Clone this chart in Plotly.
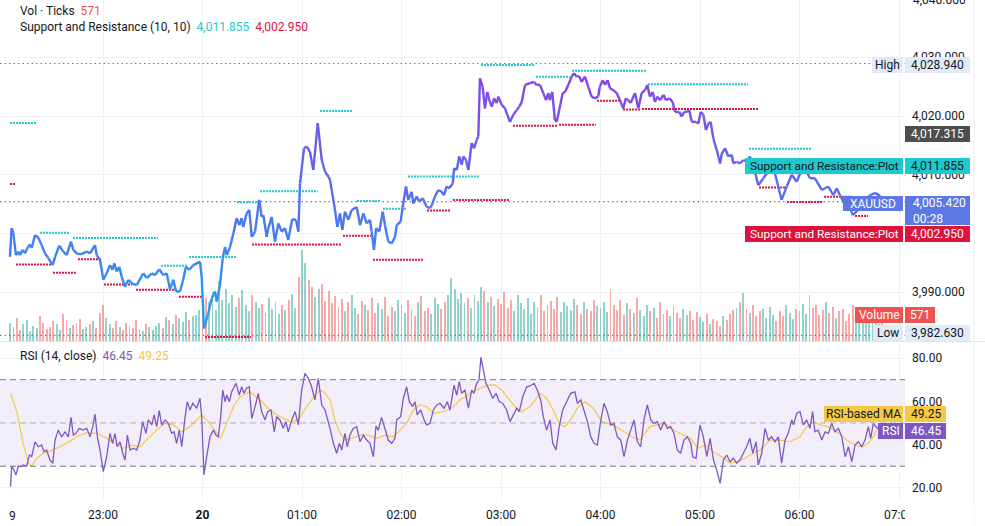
import numpy as np
import plotly.graph_objects as go

# ---------------- data (time = minutes after 22:00 on the 19th) ----------------
price_pts = [(3.9,3996.0),(4.9,4000.9),(5.9,4000.1),(7.5,3996.3),(8.9,3996.9),(9.9,3996.3),(11.6,3997.2),(13.0,3996.6),(14.4,3997.5),(16.0,3998.1),(17.0,3997.5),(19.0,3999.7),(21.0,3999.3),(23.0,3998.0),(25.0,3996.6),(27.0,3995.8),(29.7,3994.6),(31.1,3996.0),(33.6,3997.9),(36.1,3996.9),(38.1,3996.3),(40.7,3998.6),(42.1,3997.2),(44.5,3996.5),(47.2,3996.5),(50.2,3996.9),(52.2,3996.6),(55.2,3998.0),(56.2,3996.3),(58.2,3995.5),(60.2,3992.1),(62.2,3993.2),(64.2,3994.6),(65.8,3993.8),(66.8,3994.9),(68.3,3993.5),(69.8,3994.3),(71.3,3992.6),(73.3,3990.9),(75.3,3992.1),(77.3,3991.5),(80.3,3991.2),(84.3,3993.2),(86.4,3992.4),(89.4,3993.2),(91.4,3992.9),(93.9,3993.9),(96.4,3992.9),(98.4,3993.2),(100.4,3990.5),(102.4,3992.1),(104.0,3990.1),(106.4,3990.1),(108.1,3991.8),(110.0,3994.3),(112.0,3993.8),(114.5,3994.6),(118.5,3995.2),(119.5,3992.6),(120.9,3983.8),(123.5,3986.4),(125.5,3988.9),(127.5,3990.1),(128.6,3988.4),(130.5,3991.2),(132.2,3995.8),(133.6,3997.7),(134.6,3996.3),(136.6,3997.7),(138.6,4000.0),(140.6,4002.6),(142.2,4001.4),(143.6,4002.6),(144.6,4001.1),(146.6,4003.4),(148.2,4004.0),(149.7,3999.4),(151.7,4000.3),(154.2,4005.7),(155.7,4002.8),(156.7,4003.1),(158.7,3999.4),(159.7,4000.9),(161.7,4002.8),(163.7,3998.6),(165.7,4001.7),(167.8,4000.3),(169.7,4000.9),(171.7,3998.9),(174.1,4002.4),(176.4,4002.3),(177.8,4000.3),(178.8,4008.5),(181.2,4014.5),(182.8,4014.8),(184.8,4013.9),(186.8,4010.8),(189.5,4018.8),(191.9,4012.5),(193.9,4010.5),(195.9,4009.7),(196.9,4009.1),(199.9,4004.0),(201.3,4001.1),(202.9,4003.4),(204.3,4000.6),(205.9,4003.7),(207.9,4002.3),(210.0,4004.0),(213.0,4004.5),(215.0,4001.4),(217.0,4003.4),(219.0,4001.7),(221.0,4002.3),(222.0,4000.3),(223.4,3997.2),(224.7,4000.9),(226.6,4000.3),(228.7,4003.7),(230.0,4001.4),(232.0,3998.6),(234.1,3998.3),(236.1,3999.4),(237.1,4001.4),(239.5,4002.0),(240.7,4004.5),(242.7,4008.0),(244.1,4005.7),(246.1,4007.1),(247.1,4005.1),(249.2,4006.3),(250.7,4005.4),(252.8,4006.0),(255.2,4004.5),(257.2,4004.3),(258.2,4004.8),(260.2,4006.3),(262.2,4007.4),(264.2,4007.1),(265.6,4006.5),(267.2,4008.0),(268.8,4007.7),(270.9,4008.5),(271.7,4011.1),(273.3,4010.8),(274.8,4013.1),(276.3,4011.7),(277.3,4013.1),(278.9,4012.5),(280.3,4010.8),(282.3,4015.4),(283.7,4014.5),(285.3,4015.9),(286.3,4016.5),(287.3,4026.4),(288.9,4025.0),(290.3,4021.3),(291.7,4024.1),(292.9,4022.7),(294.4,4021.6),(295.8,4023.0),(297.4,4022.2),(298.4,4023.3),(300.4,4021.9),(302.4,4021.3),(303.8,4020.2),(305.4,4019.0),(307.4,4020.2),(309.5,4021.0),(311.0,4021.6),(312.5,4022.4),(314.5,4025.3),(317.5,4025.6),(319.9,4025.8),(321.5,4025.3),(323.5,4025.3),(325.5,4023.9),(327.1,4022.7),(328.5,4023.9),(329.5,4022.7),(330.9,4024.1),(332.5,4019.3),(333.6,4019.0),(335.1,4021.0),(337.2,4023.9),(338.6,4024.1),(340.6,4025.3),(342.6,4026.7),(344.0,4027.3),(345.6,4026.7),(347.2,4026.8),(348.6,4025.8),(350.6,4026.7),(352.6,4025.0),(354.6,4023.3),(356.6,4023.0),(358.6,4023.3),(359.6,4025.0),(361.3,4026.1),(362.7,4025.3),(364.3,4026.1),(365.7,4024.7),(367.7,4024.4),(369.8,4023.9),(371.7,4022.7),(373.7,4021.3),(375.3,4023.0),(376.7,4022.7),(378.2,4022.2),(380.8,4023.9),(382.8,4021.3),(384.8,4023.9),(386.8,4024.4),(388.2,4025.3),(389.8,4023.3),(391.5,4024.1),(392.8,4022.4),(394.2,4023.3),(395.9,4022.7),(397.9,4023.6),(399.5,4022.7),(401.5,4023.0),(403.5,4022.4),(404.9,4020.7),(407.5,4020.7),(409.0,4019.9),(410.3,4020.7),(412.0,4020.7),(413.5,4021.0),(415.0,4019.0),(417.6,4019.0),(419.0,4018.7),(420.4,4020.7),(422.0,4020.2),(423.6,4017.6),(425.0,4018.7),(426.4,4019.0),(428.0,4016.2),(430.1,4014.2),(432.1,4011.9),(433.1,4013.6),(435.1,4014.5),(437.1,4013.1),(439.1,4013.4),(440.1,4011.9),(442.1,4012.2),(444.1,4011.9),(446.1,4012.5),(448.1,4012.2),(450.1,4013.1),(453.1,4010.5),(455.1,4008.2),(458.2,4009.4),(463.2,4011.4),(465.2,4010.2),(469.2,4005.7),(472.3,4008.0),(475.3,4010.0),(478.3,4008.8),(480.3,4010.2),(484.3,4010.5),(486.3,4009.4),(489.2,4009.4),(493.4,4007.4),(497.3,4008.0),(500.4,4006.5),(502.4,4007.7),(504.4,4006.5),(507.5,4004.8),(510.5,4004.3),(512.1,4003.1),(515.3,4004.0),(519.0,4005.7),(522.6,4006.5),(525.6,4006.9),(528.6,4006.4),(530.4,4005.42)]

rsi_pts = [(4.3,20.6),(4.9,30.1),(6.3,28.3),(7.5,26.0),(8.9,30.1),(10.4,29.8),(11.9,30.6),(14.0,30.1),(15.6,35.2),(17.0,34.4),(19.0,41.3),(21.0,39.0),(23.0,39.8),(24.4,36.7),(26.0,37.5),(28.0,32.9),(29.7,31.4),(31.1,42.1),(33.0,46.7),(35.1,43.6),(37.1,45.9),(39.1,43.6),(40.7,52.6),(42.1,44.4),(43.7,45.2),(45.7,47.5),(47.8,46.7),(50.2,47.5),(52.2,43.6),(53.8,48.3),(55.2,54.1),(56.6,43.6),(58.2,37.5),(60.2,27.5),(62.2,34.4),(64.2,45.2),(65.8,40.6),(67.2,45.2),(68.6,39.0),(70.3,41.3),(71.9,36.0),(73.3,32.9),(74.7,44.4),(76.3,37.5),(78.3,38.3),(80.3,37.5),(82.3,42.1),(83.9,50.6),(85.9,45.2),(87.3,51.4),(89.4,49.1),(90.8,53.7),(92.4,48.3),(93.9,55.7),(95.4,49.1),(97.4,51.4),(99.4,49.8),(101.4,45.2),(102.8,45.9),(104.4,40.6),(106.0,46.7),(107.5,39.0),(109.4,52.1),(110.8,59.8),(112.5,56.0),(114.1,59.1),(116.5,56.8),(118.5,61.4),(119.5,52.9),(120.9,26.0),(122.5,34.4),(124.5,43.6),(126.5,46.7),(128.1,44.4),(129.5,43.6),(131.0,52.9),(132.2,65.2),(133.6,59.8),(134.6,62.9),(136.2,59.8),(137.6,64.4),(140.2,68.3),(142.2,62.9),(143.6,66.7),(145.0,63.7),(146.6,66.0),(148.2,66.7),(149.7,52.1),(151.7,57.5),(153.6,63.7),(155.7,55.2),(157.7,51.4),(159.3,55.2),(161.3,56.0),(163.3,45.9),(164.7,52.9),(166.7,51.4),(168.7,47.5),(170.3,50.6),(171.7,45.9),(173.8,51.4),(175.8,55.2),(177.8,49.1),(179.8,65.2),(181.8,72.9),(183.8,70.6),(185.8,66.7),(187.8,60.6),(189.8,70.6),(191.9,58.3),(193.9,56.0),(195.9,50.6),(196.9,47.5),(198.9,40.6),(200.9,36.0),(202.5,40.6),(203.9,37.5),(205.9,45.2),(207.3,39.0),(208.9,44.4),(210.9,47.5),(213.0,48.3),(215.0,41.3),(217.0,44.4),(219.0,42.1),(221.0,40.6),(223.0,34.4),(224.6,48.6),(226.0,46.7),(228.0,52.6),(230.0,46.7),(232.0,42.1),(234.1,40.6),(236.1,42.9),(237.1,51.4),(239.5,52.9),(241.1,61.4),(243.1,66.7),(244.7,59.8),(246.7,57.5),(248.1,59.8),(249.5,53.7),(251.6,56.0),(253.6,51.4),(255.2,49.1),(257.2,49.8),(259.2,56.0),(261.2,58.3),(263.2,59.1),(265.6,56.8),(267.6,59.8),(269.2,56.0),(271.7,67.5),(273.3,62.9),(274.8,69.1),(276.3,63.7),(278.3,65.2),(280.3,56.8),(282.3,65.2),(283.7,63.7),(285.3,68.3),(286.7,69.8),(287.9,80.3),(289.3,74.5),(290.9,68.3),(292.9,65.2),(295.0,61.4),(297.0,63.7),(299.0,59.8),(301.0,59.1),(303.4,56.0),(305.4,50.6),(307.4,53.7),(309.5,56.8),(311.0,55.2),(313.1,62.1),(315.5,66.7),(317.5,67.1),(319.9,68.3),(321.9,65.2),(323.9,60.6),(325.5,52.9),(327.5,46.7),(329.5,51.4),(331.2,40.6),(333.2,37.5),(335.1,48.3),(337.2,56.0),(339.6,59.8),(342.0,63.7),(344.6,64.4),(346.0,59.1),(348.1,60.6),(350.1,56.0),(352.1,50.6),(354.1,43.6),(356.1,40.6),(358.1,39.8),(360.2,51.4),(362.1,59.1),(364.1,55.2),(366.1,49.1),(368.1,49.8),(370.1,43.6),(372.2,42.1),(374.2,34.4),(376.2,42.1),(378.2,46.7),(380.2,51.4),(382.2,41.3),(384.2,39.0),(386.2,51.4),(388.2,58.3),(390.3,51.4),(392.3,49.8),(394.2,50.6),(396.3,46.7),(398.3,50.6),(400.3,47.5),(402.3,48.3),(404.3,45.2),(406.3,37.5),(408.3,36.0),(410.3,42.1),(412.3,43.6),(414.4,40.6),(415.6,34.4),(417.6,33.7),(420.0,49.1),(422.0,43.6),(424.1,34.4),(426.1,42.9),(428.1,32.9),(430.1,28.3),(432.1,22.1),(434.1,32.9),(436.1,35.2),(438.1,32.1),(440.1,33.7),(442.1,31.4),(444.1,32.9),(446.1,36.0),(448.1,39.0),(450.1,42.9),(451.8,36.0),(453.8,41.3),(455.1,30.6),(457.2,36.0),(459.2,47.5),(461.2,42.1),(463.2,43.6),(465.2,41.3),(467.2,43.6),(469.2,31.4),(471.3,42.1),(473.2,45.2),(475.3,51.4),(476.3,49.1),(478.3,54.5),(480.3,55.2),(482.3,49.1),(484.3,51.4),(486.3,47.5),(487.9,55.2),(489.3,45.9),(491.3,46.7),(493.4,42.1),(495.4,45.9),(497.4,45.2),(499.4,49.8),(501.4,45.9),(503.4,47.5),(505.5,43.6),(507.5,34.4),(509.5,39.0),(511.5,32.1),(513.5,39.8),(515.5,41.3),(517.5,39.0),(519.5,42.1),(521.5,48.3),(522.9,42.9),(524.5,49.8),(526.7,47.7),(530.4,46.45)]

rsi_ma_pts = [(4.3,63.7),(8.0,55.2),(11.9,40.6),(15.0,31.4),(17.0,30.1),(20.0,33.7),(24.0,36.0),(30.0,37.5),(38.1,40.6),(44.1,43.6),(50.2,45.5),(56.2,45.2),(62.2,42.9),(67.2,40.6),(72.2,38.3),(77.3,39.8),(82.3,39.0),(87.3,42.9),(92.4,46.7),(97.4,49.8),(102.4,49.1),(107.5,45.9),(112.5,48.3),(117.5,52.1),(119.5,53.7),(123.5,50.6),(127.5,46.7),(131.0,42.9),(134.6,49.8),(138.6,57.5),(142.6,62.1),(148.6,64.4),(154.7,60.6),(160.7,56.0),(166.7,52.9),(172.8,50.6),(177.8,51.4),(182.8,57.5),(187.8,62.9),(190.8,65.2),(193.9,63.7),(196.9,60.6),(199.9,51.4),(202.9,45.2),(205.9,42.1),(210.0,42.9),(215.0,44.4),(220.0,44.4),(225.1,42.9),(230.0,44.4),(235.1,43.6),(239.1,46.7),(243.1,49.8),(247.1,56.0),(251.1,58.3),(255.2,57.5),(259.2,54.5),(265.2,55.2),(270.3,56.8),(275.3,60.6),(281.3,63.7),(287.3,66.0),(292.3,67.5),(296.4,67.5),(300.4,65.2),(304.4,61.4),(308.4,57.5),(312.5,55.2),(317.5,57.5),(323.5,63.7),(327.5,61.4),(331.5,56.0),(335.6,49.1),(338.6,48.3),(342.6,52.1),(346.6,57.5),(350.6,59.8),(355.6,56.8),(360.7,50.6),(366.7,49.1),(372.7,46.7),(378.8,43.6),(383.8,42.1),(389.8,48.3),(394.9,49.1),(398.9,49.8),(403.9,46.7),(409.9,44.4),(414.0,42.9),(419.0,38.3),(422.9,39.8),(428.0,36.7),(433.1,34.4),(438.1,31.6),(443.1,32.1),(447.1,33.7),(450.1,35.2),(456.2,37.5),(462.2,42.1),(468.2,42.1),(474.3,41.3),(480.3,43.6),(484.3,48.3),(488.3,50.6),(492.4,49.1),(497.4,48.3),(502.4,45.9),(508.5,42.1),(513.5,39.8),(517.5,38.8),(521.5,40.6),(524.5,43.6),(526.6,46.7),(530.4,49.25)]

# volume (ticks) of 2-minute bars starting at minute 4
volume = [420, 310, 520, 260, 390, 480, 220, 350, 300, 560, 410, 270, 330, 450, 380, 240, 610, 470, 290, 360, 420, 510, 280, 330, 390, 450, 300, 640,
          820, 520, 380, 290, 450, 330, 260, 410, 350, 300, 470, 280, 230, 390, 310, 260, 350, 420, 300, 540, 480, 390, 600, 520, 430, 650, 470, 560, 590, 700,
          760, 980, 880, 1120, 700, 1370, 940, 1180, 860, 1050, 780, 990, 1160, 820, 690, 1040, 900, 760, 850, 640, 980, 720, 880, 610, 830, 700, 940, 1080, 760, 1460,
          2070, 1780, 1390, 1230, 1010, 1180, 1300, 920, 1140, 860, 1020, 780, 950, 690, 880, 1040, 750, 620, 910, 830, 700, 980, 640, 860, 720, 1010, 560, 780, 690, 940,
          820, 640, 930, 710, 560, 880, 1020, 690, 760, 610, 980, 840, 730, 890, 1060, 1440, 1180, 950, 1100, 870, 990, 760, 1050, 920, 1230, 1150, 880, 1010, 790, 960,
          840, 1120, 760, 930, 680, 1040, 870, 720, 990, 610, 880, 770, 1060, 690, 830, 920, 740, 1010, 650, 880, 790, 700, 960, 820, 610, 890, 740, 680, 930, 800,
          760, 880, 650, 1180, 820, 700, 930, 590, 860, 740, 640, 990, 710, 580, 820, 690, 760, 530, 880, 620, 710, 560, 790, 640, 520, 730, 600, 680, 470, 650,
          540, 430, 620, 380, 510, 460, 350, 580, 490, 620, 700, 760, 880, 1090, 720, 640, 810, 560, 690, 740, 520, 780, 600, 450, 690, 570, 820, 640, 510, 730,
          690, 840, 620, 1050, 760, 820, 590, 710, 880, 640, 780, 520, 690, 740, 460, 620, 810, 560, 430, 670, 520, 740, 480, 610, 390, 571]
vol_start, vol_step = 4, 2

# support / resistance segments (start minute, end minute, level)
res_t0 = [3.9, 22.0, 41.9, 95.0, 111.9, 140.8, 154.7, 190.9, 213.2, 228.8, 243.9, 287.9, 321.1, 342.8, 388.6, 449.5, 490.0]
res_t1 = [20.2, 40.1, 93.2, 110.7, 140.2, 154.1, 189.6, 210.8, 227.6, 242.7, 286.7, 319.9, 341.6, 388.0, 448.9, 487.5, 530.4]
res_p = [4018.8, 4000.1, 3999.2, 3994.5, 3996.0, 4005.3, 4007.2, 4020.85, 4005.5, 4004.2, 4009.7, 4028.7, 4026.7, 4027.7, 4025.4, 4014.4, 4011.855]
sup_t0 = [3.9, 7.5, 29.8, 44.9, 60.6, 79.9, 105.8, 121.5, 149.8, 204.7, 222.8, 255.4, 271.0, 307.2, 335.0, 357.9, 373.6, 385.0, 455.6, 472.5, 494.8, 513.5]
sup_t1 = [6.9, 28.6, 43.7, 59.4, 77.5, 104.6, 120.3, 149.2, 203.5, 221.6, 253.6, 269.9, 305.4, 333.8, 357.3, 371.8, 383.8, 455.0, 471.3, 494.2, 511.7, 521.3]
sup_p = [4008.4, 3994.7, 3993.3, 3995.6, 3991.3, 3990.4, 3989.2, 3982.35, 3998.1, 3999.6, 3995.5, 4003.9, 4005.7, 4018.35, 4018.5, 4022.6, 4021.1, 4021.2, 4007.8, 4005.35, 4006.25, 4002.95]

hour_ticks = [60, 120, 180, 240, 300, 360, 420, 480, 540]
hour_labels = ["23:00", "<b>20</b>", "01:00", "02:00", "03:00", "04:00", "05:00", "06:00", "07:00"]
price_ticks = [3990, 4000, 4010, 4020, 4030]
rsi_ticks = [20, 40, 60, 80]

high_p, low_p, last_p, mark_p = 4028.940, 3982.630, 4005.420, 4017.315
res_last, sup_last = 4011.855, 4002.950
vol_last = 571
rsi_last, rsi_ma_last = 46.45, 49.25

# ---------------- layout constants ----------------
W, H = 985, 526
PW, PH = 905, 500
X_RANGE = [-2.11, 543.6]
P_RANGE = [3981.67, 4039.76]
R_RANGE = [14.41, 87.39]
V_RANGE = [0, 7775]
FONT = "Roboto, Arial, sans-serif"
TXT = "#131722"
GRID = "#eef1f6"
TEAL = "#1ec8cc"
CRIM = "#dc143c"
BLUE = "#5b78e6"
PURP = "#7e57c2"
YELL = "#f5c945"
LBLUE = "#e1ebf8"


def xp(px):
    return px / PW


def yp(py):
    return 1 - py / PH


price_t = [p[0] for p in price_pts]
price_v = [p[1] for p in price_pts]
rsi_t = [p[0] for p in rsi_pts]
rsi_v = [p[1] for p in rsi_pts]
ma_t = [p[0] for p in rsi_ma_pts]
ma_v = [p[1] for p in rsi_ma_pts]

fig = go.Figure()

# volume bars (base axis y, drawn first / below)
vol_t = [vol_start + vol_step * i for i in range(len(volume))]
vcols = []
for t in vol_t:
    now = np.interp(t, price_t, price_v)
    prev = np.interp(t - vol_step, price_t, price_v)
    vcols.append("rgba(38,166,154,0.5)" if now >= prev else "rgba(239,83,80,0.5)")
fig.add_trace(go.Bar(x=vol_t, y=volume, width=1.15, marker=dict(color=vcols, line=dict(width=0)),
                     xaxis="x", yaxis="y", hoverinfo="skip", showlegend=False))


def seg_xy(t0, t1, p):
    xs, ys = [], []
    for a, b, c in zip(t0, t1, p):
        xs += [a, b, None]
        ys += [c, c, None]
    return xs, ys


# reference dotted lines
for lvl in (high_p, last_p, low_p):
    fig.add_trace(go.Scatter(x=[X_RANGE[0], X_RANGE[1]], y=[lvl, lvl], mode="lines", yaxis="y3",
                             line=dict(color="#787b86", width=1.2, dash="1.5px,3px"),
                             hoverinfo="skip", showlegend=False))

xs, ys = seg_xy(res_t0, res_t1, res_p)
fig.add_trace(go.Scatter(x=xs, y=ys, mode="lines", yaxis="y3", line=dict(color=TEAL, width=2, dash="2px,1px"),
                         hoverinfo="skip", showlegend=False))
xs, ys = seg_xy(sup_t0, sup_t1, sup_p)
fig.add_trace(go.Scatter(x=xs, y=ys, mode="lines", yaxis="y3", line=dict(color=CRIM, width=2, dash="2px,1px"),
                         hoverinfo="skip", showlegend=False))

# price line with price-based gradient
c0 = np.array([32, 160, 242])
c1 = np.array([138, 66, 234])
NB = 24
bins = {}
for i in range(len(price_t) - 1):
    pm = 0.5 * (price_v[i] + price_v[i + 1])
    f = min(max((pm - 3983.0) / (4028.0 - 3983.0), 0), 1)
    k = int(round(f * NB))
    bx, by = bins.setdefault(k, ([], []))
    bx += [price_t[i], price_t[i + 1], None]
    by += [price_v[i], price_v[i + 1], None]
for k, (bx, by) in sorted(bins.items()):
    c = c0 + (c1 - c0) * (k / NB)
    fig.add_trace(go.Scatter(x=bx, y=by, mode="lines", yaxis="y3",
                             line=dict(color="rgb(%d,%d,%d)" % tuple(c.astype(int)), width=2.4),
                             hoverinfo="skip", showlegend=False))

# RSI pane
fig.add_trace(go.Scatter(x=ma_t, y=ma_v, mode="lines", yaxis="y2", line=dict(color=YELL, width=1.2),
                         hoverinfo="skip", showlegend=False))
fig.add_trace(go.Scatter(x=rsi_t, y=rsi_v, mode="lines", yaxis="y2", line=dict(color=PURP, width=1.3),
                         hoverinfo="skip", showlegend=False))

shapes = []
shapes.append(dict(type="rect", xref="paper", yref="y2", x0=0, x1=1, y0=30, y1=70,
                   fillcolor="rgba(126,87,194,0.1)", line=dict(width=0), layer="below"))
for lvl, col in ((70, "#787b86"), (50, "rgba(120,123,134,0.55)"), (30, "#787b86")):
    shapes.append(dict(type="line", xref="paper", yref="y2", x0=0, x1=1, y0=lvl, y1=lvl,
                       line=dict(color=col, width=1, dash="6px,4px"), layer="above"))
# pane separators / borders
shapes.append(dict(type="line", xref="paper", yref="paper", x0=0, x1=W / PW, y0=yp(341.5), y1=yp(341.5),
                   line=dict(color="#e0e3eb", width=1), layer="above"))
shapes.append(dict(type="line", xref="paper", yref="paper", x0=xp(974), x1=xp(974), y0=yp(0), y1=yp(526),
                   line=dict(color="#eceef2", width=1), layer="above"))
# white mask over time axis under price scale
shapes.append(dict(type="rect", xref="paper", yref="paper", x0=xp(905), x1=xp(974), y0=yp(501), y1=yp(526),
                   fillcolor="white", line=dict(width=0), layer="above"))

annotations = []


def box(text, x0, x1, y0, y1, bg, fg, size=12, tx=None):
    shapes.append(dict(type="rect", xref="paper", yref="paper", x0=xp(x0), x1=xp(x1), y0=yp(y0), y1=yp(y1),
                       fillcolor=bg, line=dict(width=0), layer="above"))
    if tx is None:
        annotations.append(dict(text=text, x=xp((x0 + x1) / 2), y=yp((y0 + y1) / 2), xref="paper", yref="paper",
                                xanchor="center", yanchor="middle", showarrow=False,
                                font=dict(color=fg, size=size, family=FONT)))
    else:
        annotations.append(dict(text=text, x=xp(tx), y=yp((y0 + y1) / 2), xref="paper", yref="paper",
                                xanchor="left", yanchor="middle", showarrow=False, align="left",
                                font=dict(color=fg, size=size, family=FONT)))


box("High", 872, 903, 57, 73, LBLUE, TXT)
box("{:,.3f}".format(high_p), 905, 970, 57, 73, LBLUE, TXT)
box("{:,.3f}".format(mark_p), 905, 970, 126, 142, "#4d4d4d", "white")
box("Support and Resistance:Plot", 745, 903, 158, 174, TEAL, TXT, size=11.8)
box("{:,.3f}".format(res_last), 905, 970, 158, 174, TEAL, TXT)
box("XAUUSD", 843, 903, 196, 211, BLUE, "white")
box("{:,.3f}<br>00:28".format(last_p), 905, 970, 196, 225, BLUE, "white", tx=911)
box("Support and Resistance:Plot", 745, 903, 226, 242, CRIM, "white", size=11.8)
box("{:,.3f}".format(sup_last), 905, 970, 226, 242, CRIM, "white")
box("Volume", 855, 903, 307, 323, "#ef5350", "white")
box(str(vol_last), 905, 935, 307, 323, "#ef5350", "white")
box("Low", 873, 903, 325, 341, LBLUE, TXT)
box("{:,.3f}".format(low_p), 905, 970, 325, 341, LBLUE, TXT)
box("RSI-based MA", 824, 903, 406, 422, YELL, TXT)
box("{:.2f}".format(rsi_ma_last), 905, 946, 406, 422, YELL, TXT)
box("RSI", 878, 903, 423, 439, PURP, "white")
box("{:.2f}".format(rsi_last), 905, 946, 423, 439, PURP, "white")


def legend(text, px, py):
    annotations.append(dict(text=text, x=xp(px), y=yp(py), xref="paper", yref="paper", xanchor="left",
                            yanchor="middle", showarrow=False, font=dict(color=TXT, size=12, family=FONT)))


legend("Vol · Ticks  <span style='color:#ef5350'>%d</span>" % vol_last, 18, 11)
legend("Support and Resistance (10, 10)  <span style='color:%s'>%s</span>  <span style='color:%s'>%s</span>"
       % (TEAL, "{:,.3f}".format(res_last), CRIM, "{:,.3f}".format(sup_last)), 18, 27)
legend("RSI (14, close)  <span style='color:%s'>%.2f</span>  <span style='color:%s'>%.2f</span>"
       % (PURP, rsi_last, YELL, rsi_ma_last), 18, 355.5)

# partially visible labels
annotations.append(dict(text="4,040.000", x=xp(911), y=yp(0), xref="paper", yref="paper", xanchor="left",
                        yanchor="middle", showarrow=False, font=dict(color=TXT, size=12, family=FONT)))
annotations.append(dict(text="9", x=xp(12), y=yp(516), xref="paper", yref="paper", xanchor="center",
                        yanchor="middle", showarrow=False, font=dict(color=TXT, size=12, family=FONT)))

fig.update_layout(
    width=W, height=H, margin=dict(l=0, r=W - PW, t=0, b=H - PH),
    paper_bgcolor="white", plot_bgcolor="white", showlegend=False, bargap=0,
    font=dict(family=FONT, size=12, color=TXT),
    xaxis=dict(domain=[0, 1], range=X_RANGE, anchor="y2", tickvals=hour_ticks, ticktext=hour_labels,
               showgrid=True, gridcolor=GRID, gridwidth=1, zeroline=False, showline=False, ticks="",
               tickfont=dict(size=12, color=TXT, family=FONT), ticklabelstandoff=6, fixedrange=True),
    yaxis=dict(domain=[0.318, 1], range=V_RANGE, visible=False, showgrid=False, fixedrange=True),
    yaxis3=dict(overlaying="y", anchor="x", side="right", range=P_RANGE, tickvals=price_ticks,
                tickformat=",.3f", showgrid=True, gridcolor=GRID, zeroline=False, showline=False, ticks="",
                tickfont=dict(size=12, color=TXT, family=FONT), ticklabelstandoff=6, fixedrange=True),
    yaxis2=dict(domain=[0, 0.316], anchor="x", side="right", range=R_RANGE, tickvals=rsi_ticks,
                tickformat=".2f", showgrid=True, gridcolor=GRID, zeroline=False, showline=False, ticks="",
                tickfont=dict(size=12, color=TXT, family=FONT), ticklabelstandoff=6, fixedrange=True),
    shapes=shapes, annotations=annotations,
)

fig.write_html("out.html")
